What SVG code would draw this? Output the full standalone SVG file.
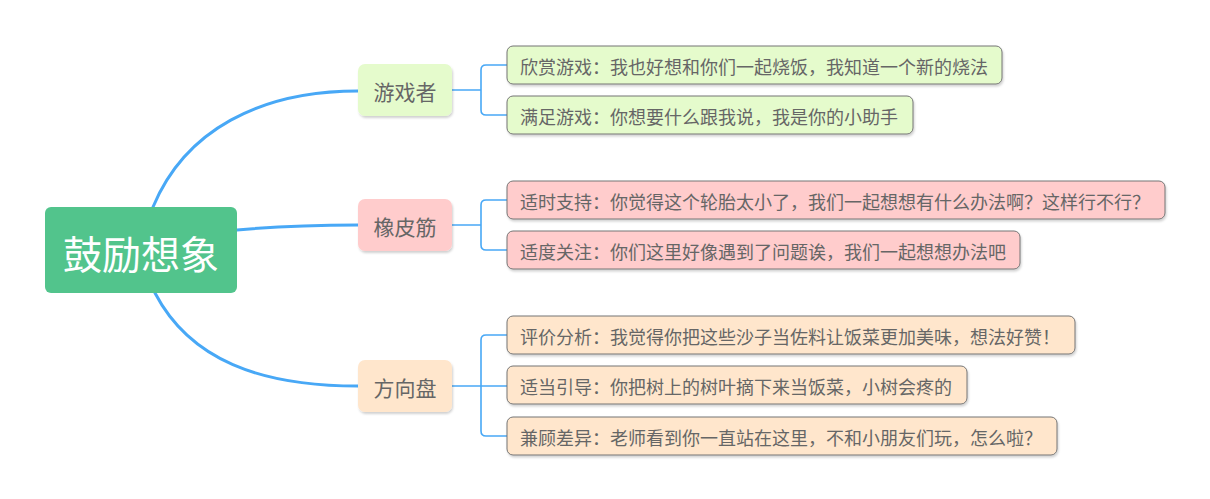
<svg xmlns="http://www.w3.org/2000/svg" width="1210" height="499" viewBox="0 0 1210 499">
<defs>
<filter id="sh" x="-10%" y="-20%" width="130%" height="160%">
<feDropShadow dx="1" dy="2" stdDeviation="1.2" flood-color="#000" flood-opacity="0.18"/>
</filter>
<style>
text{font-family:"Noto Sans CJK SC","Noto Sans",sans-serif;dominant-baseline:central;fill:#666666}
.root rect{fill:#52c48c}
.root text{fill:#fff;font-size:39px;text-anchor:middle}
.main rect{filter:url(#sh)}
.main text{font-size:21px;text-anchor:middle}
.leaf rect{stroke:#757575;stroke-width:1;filter:url(#sh)}
.leaf text{font-size:18px}
.g rect{fill:#e5fbcc}
.r rect{fill:#ffcccc}
.o rect{fill:#ffe6cc}
.c path{fill:none;stroke:#48a8f6;stroke-linecap:round}
.c .t{stroke-width:3}
.c .b{stroke-width:1.6}
</style>
</defs>
<rect width="1210" height="499" fill="#fff"/>
<g class="c" id="connectors">
<path class="t" d="M153,207 C185,130 260,91 358,91"/>
<path class="t" d="M237,230 C280,226 320,225 358,225"/>
<path class="t" d="M155,293 C190,360 260,386 358,386"/>
<path class="b" d="M452,90 H481 M507,65 H486 Q481,65 481,70 V110 Q481,115 486,115 H507"/>
<path class="b" d="M452,225 H481 M507,200 H486 Q481,200 481,205 V245 Q481,250 486,250 H507"/>
<path class="b" d="M452,386 H507 M507,335 H486 Q481,335 481,340 V431 Q481,436 486,436 H507"/>
</g>
<g id="root" class="root"><rect x="45" y="207" width="192" height="86" rx="6"/><text x="141" y="252">鼓励想象</text></g>
<g id="n1" class="main g"><rect x="358" y="64" width="94" height="52" rx="7"/><text x="405" y="91">游戏者</text></g>
<g id="n2" class="main r"><rect x="358" y="199" width="94" height="52" rx="7"/><text x="405" y="226">橡皮筋</text></g>
<g id="n3" class="main o"><rect x="358" y="360" width="94" height="52" rx="7"/><text x="405" y="387">方向盘</text></g>
<g id="l1" class="leaf g"><rect x="507" y="46" width="495" height="38" rx="6"/><text x="520" y="65.5">欣赏游戏：我也好想和你们一起烧饭，我知道一个新的烧法</text></g>
<g id="l2" class="leaf g"><rect x="507" y="96" width="406" height="38" rx="6"/><text x="520" y="115.5">满足游戏：你想要什么跟我说，我是你的小助手</text></g>
<g id="l3" class="leaf r"><rect x="507" y="181" width="658" height="38" rx="6"/><text x="520" y="200.5">适时支持：你觉得这个轮胎太小了，我们一起想想有什么办法啊？这样行不行？</text></g>
<g id="l4" class="leaf r"><rect x="507" y="231" width="513" height="38" rx="6"/><text x="520" y="250.5">适度关注：你们这里好像遇到了问题诶，我们一起想想办法吧</text></g>
<g id="l5" class="leaf o"><rect x="507" y="316" width="568" height="38" rx="6"/><text x="520" y="335.5">评价分析：我觉得你把这些沙子当佐料让饭菜更加美味，想法好赞！</text></g>
<g id="l6" class="leaf o"><rect x="507" y="366" width="460" height="38" rx="6"/><text x="520" y="385.5">适当引导：你把树上的树叶摘下来当饭菜，小树会疼的</text></g>
<g id="l7" class="leaf o"><rect x="507" y="417" width="550" height="38" rx="6"/><text x="520" y="436.5">兼顾差异：老师看到你一直站在这里，不和小朋友们玩，怎么啦？</text></g>
</svg>
